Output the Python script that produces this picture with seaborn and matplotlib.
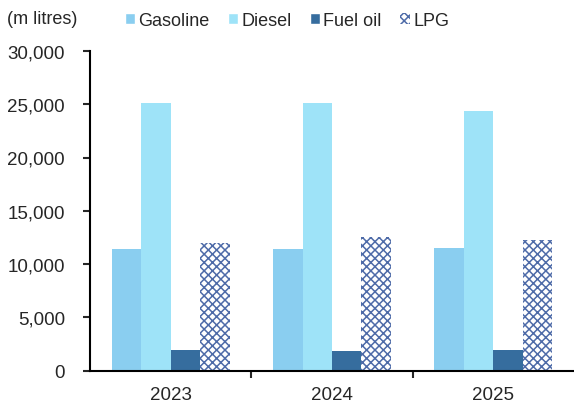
import pandas as pd
import numpy as np
import matplotlib
matplotlib.use("Agg")
import matplotlib.pyplot as plt
import seaborn as sns
from matplotlib.patches import Patch

years = ["2023", "2024", "2025"]
fuels = ["Gasoline", "Diesel", "Fuel oil", "LPG"]
gasoline = [11400, 11450, 11500]
diesel = [25100, 25100, 24400]
fuel_oil = [1900, 1800, 1900]
lpg = [12000, 12500, 12250]

colors = ["#8ACEF0", "#9EE3F8", "#366D9E", "#FFFFFF"]
hatch_color = "#4E6BA8"


def build_frame():
    rows = []
    for fuel, vals in zip(fuels, [gasoline, diesel, fuel_oil, lpg]):
        for y, v in zip(years, vals):
            rows.append({"year": y, "fuel": fuel, "value": v})
    return pd.DataFrame(rows)


def main():
    sns.set_style("white")
    plt.rcParams["font.family"] = ["Liberation Sans", "DejaVu Sans"]
    plt.rcParams["hatch.linewidth"] = 1.1
    plt.rcParams["hatch.color"] = hatch_color

    df = build_frame()
    fig = plt.figure(figsize=(5.74, 4.06), dpi=100)
    ax = fig.add_axes([90 / 574, 34.5 / 406, 484 / 574, 319.5 / 406])

    sns.barplot(data=df, x="year", y="value", hue="fuel", order=years,
                hue_order=fuels, palette=colors, width=0.73, gap=0,
                saturation=1, legend=False, ax=ax)

    for bar in ax.containers[3]:
        bar.set_hatch("xxxx")
        bar.set_edgecolor(hatch_color)
        bar.set_linewidth(0)
    for c in ax.containers[:3]:
        for bar in c:
            bar.set_linewidth(0)

    ax.set_ylim(0, 30000)
    ax.set_xlim(-0.5, 2.5)
    ax.set_yticks(np.arange(0, 30001, 5000))
    ax.set_yticklabels([f"{v:,}" for v in range(0, 30001, 5000)])
    ax.set_xticks([0.5, 1.5], minor=True)
    ax.set_xlabel("")
    ax.set_ylabel("")

    for side in ["top", "right"]:
        ax.spines[side].set_visible(False)
    for side in ["left", "bottom"]:
        ax.spines[side].set_color("black")
        ax.spines[side].set_linewidth(1.5)

    fs = 13.5
    ax.tick_params(axis="y", which="major", direction="out", length=5,
                   width=1.5, pad=13, labelsize=fs, left=True)
    ax.tick_params(axis="x", which="major", length=0, pad=11, labelsize=fs)
    ax.tick_params(axis="x", which="minor", direction="out", length=5,
                   width=1.5, bottom=True)

    fig.text(7 / 574, 1 - 19 / 406, "(m litres)", fontsize=13, va="center")

    handles = [Patch(facecolor=colors[0]), Patch(facecolor=colors[1]),
               Patch(facecolor=colors[2]),
               Patch(facecolor="white", hatch="xxxx", edgecolor=hatch_color,
                     linewidth=0)]
    fig.legend(handles, fuels, loc="center left",
               bbox_to_anchor=(125 / 574, 1 - 21 / 406), ncol=4,
               frameon=False, fontsize=13, handlelength=0.55,
               handleheight=0.55, handletextpad=0.2, columnspacing=1.0,
               borderaxespad=0, borderpad=0)

    fig.savefig("out.png", dpi=100)


if __name__ == "__main__":
    main()
